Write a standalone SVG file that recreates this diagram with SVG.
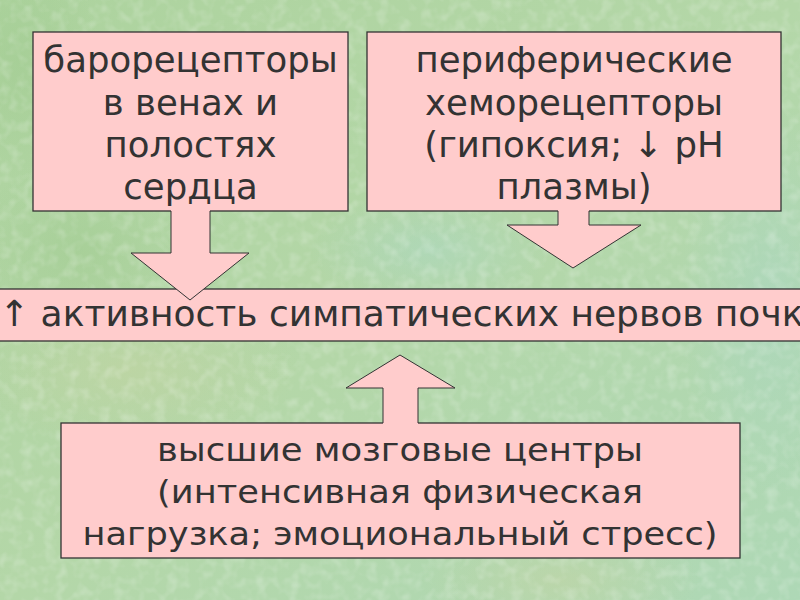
<svg xmlns="http://www.w3.org/2000/svg" width="800" height="600" viewBox="0 0 800 600">
<style>
.box{fill:#FFCCCC;stroke:#333333;stroke-width:1.3}
.af{fill:#FFCCCC;stroke:none}
.as{fill:none;stroke:#333333;stroke-width:1}
.t{font-family:"DejaVu Sans",sans-serif;fill:#333333;text-anchor:middle}
.top{font-size:35.5px}
.mid{font-size:36px;text-anchor:start}
.bot{font-size:32px}
</style>
<defs>
<linearGradient id="bg" x1="0" y1="0" x2="1" y2="1">
<stop offset="0" stop-color="#ADD39E"/>
<stop offset="0.5" stop-color="#B4D7A8"/>
<stop offset="1" stop-color="#AED8B6"/>
</linearGradient>
<radialGradient id="p1"><stop offset="0" stop-color="#C6D4A2" stop-opacity="0.5"/><stop offset="1" stop-color="#C6D4A2" stop-opacity="0"/></radialGradient>
<radialGradient id="p2"><stop offset="0" stop-color="#AAD8C6" stop-opacity="0.5"/><stop offset="1" stop-color="#AAD8C6" stop-opacity="0"/></radialGradient>
<radialGradient id="p3"><stop offset="0" stop-color="#A2CC92" stop-opacity="0.6"/><stop offset="1" stop-color="#A2CC92" stop-opacity="0"/></radialGradient>
<filter id="tex" x="0" y="0" width="100%" height="100%">
<feTurbulence type="fractalNoise" baseFrequency="0.09" numOctaves="2" seed="3" result="n"/>
<feColorMatrix in="n" type="matrix" values="0 0 0 0 1  0 0 0 0 1  0 0 0 0 1  0 0 0 -2.2 1.25" result="w"/>
<feComposite in="w" in2="SourceGraphic" operator="in"/>
</filter>
</defs>
<g id="background">
<rect width="800" height="600" fill="url(#bg)"/>
<ellipse cx="130" cy="370" rx="170" ry="80" fill="url(#p1)"/>
<ellipse cx="560" cy="580" rx="140" ry="60" fill="url(#p1)"/>
<ellipse cx="430" cy="250" rx="120" ry="60" fill="url(#p2)"/>
<ellipse cx="770" cy="300" rx="90" ry="200" fill="url(#p2)"/>
<ellipse cx="80" cy="250" rx="110" ry="90" fill="url(#p3)"/>
<ellipse cx="20" cy="60" rx="80" ry="120" fill="url(#p3)"/>
<rect width="800" height="600" fill="#ffffff" filter="url(#tex)" opacity="0.22"/>
</g>
<g id="node-baro">
<rect class="box" x="33" y="32" width="315" height="179"/>
<text class="t top" x="190.5" y="72">барорецепторы</text>
<text class="t top" x="190.5" y="114.5">в венах и</text>
<text class="t top" x="190.5" y="157">полостях</text>
<text class="t top" x="190.5" y="199">сердца</text>
</g>
<g id="node-chemo">
<rect class="box" x="367" y="32" width="414" height="179"/>
<text class="t top" x="574" y="72">периферические</text>
<text class="t top" x="574" y="114.5">хеморецепторы</text>
<text class="t top" x="574" y="157">(гипоксия; ↓ pH</text>
<text class="t top" x="574" y="199">плазмы)</text>
</g>
<g id="node-activity">
<rect class="box" x="-2" y="289" width="804" height="52"/>
<text class="t mid" x="-1" y="326">↑ активность симпатических нервов почки</text>
</g>
<g id="node-brain">
<rect class="box" x="61" y="423" width="679" height="135"/>
<text class="t bot" x="400" y="461" textLength="486" lengthAdjust="spacingAndGlyphs">высшие мозговые центры</text>
<text class="t bot" x="400" y="503" textLength="486" lengthAdjust="spacingAndGlyphs">(интенсивная физическая</text>
<text class="t bot" x="400" y="545" textLength="635" lengthAdjust="spacingAndGlyphs">нагрузка; эмоциональный стресс)</text>
</g>
<g id="connectors">
<polygon class="af" points="171,210 210,210 210,253 249,253 190,300 131,253 171,253"/>
<polyline class="as" points="171,211 171,253 131,253 190,300 249,253 210,253 210,211"/>
<polygon class="af" points="558,210 589,210 589,225 641,225 573,268 507,225 558,225"/>
<polyline class="as" points="558,211 558,225 507,225 573,268 641,225 589,225 589,211"/>
<polygon class="af" points="383,424 418,424 418,388 455,388 400,355 346,388 383,388"/>
<polyline class="as" points="383,423 383,388 346,388 400,355 455,388 418,388 418,423"/>
</g>
</svg>
